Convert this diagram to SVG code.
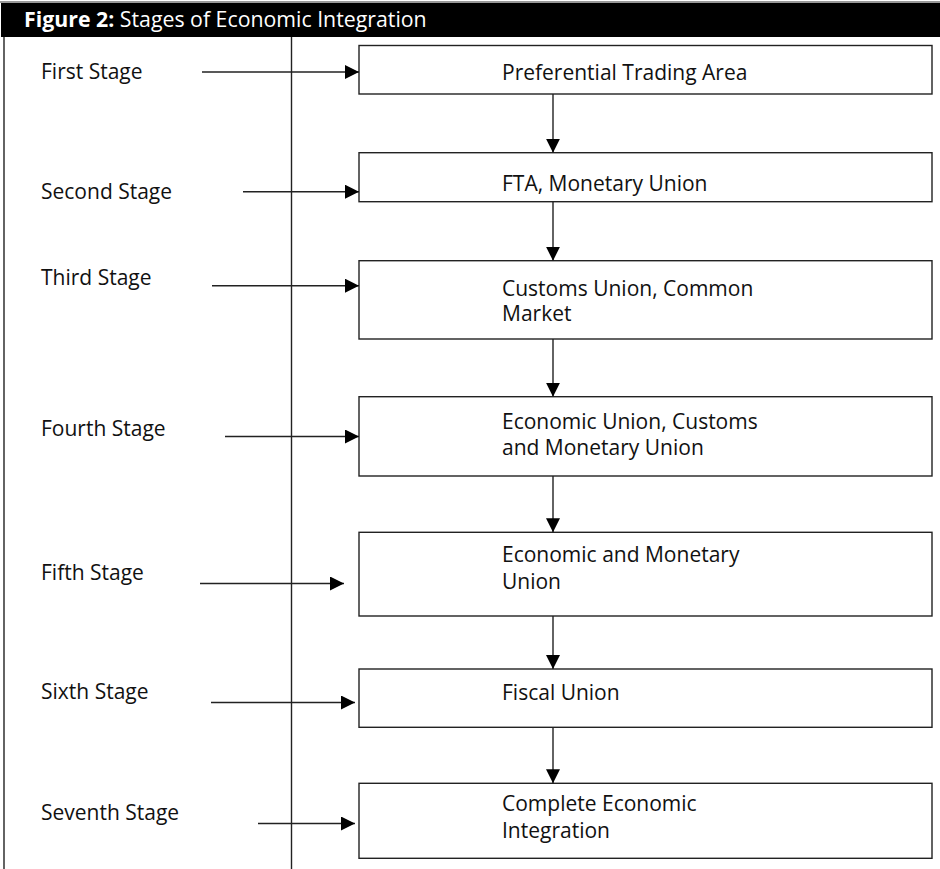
<svg xmlns="http://www.w3.org/2000/svg" width="940" height="869" viewBox="0 0 940 869">
<defs>
<style>
text{font-family:"Open Sans","Noto Sans","Liberation Sans",sans-serif;font-size:21px;fill:#111}
.hdr{fill:#fff;font-size:21.3px}
.b{font-weight:bold}
.box{fill:#fff;stroke:#222;stroke-width:1.4}
.ln{stroke:#222;stroke-width:1.4;fill:none}
.con{stroke:#222;stroke-width:1.4;fill:none;marker-end:url(#ah)}
</style>
<marker id="ah" viewBox="0 0 10 10" refX="10" refY="5" markerUnits="userSpaceOnUse" markerWidth="14" markerHeight="14" orient="auto">
<path d="M0,0 L10,5 L0,10 Z" fill="#000"/>
</marker>
</defs>
<rect x="0" y="0" width="940" height="869" fill="#fff"/>
<g id="header">
<rect x="0" y="1" width="940" height="2" fill="#999"/>
<rect x="1" y="3" width="939" height="34" fill="#000"/>
<text x="24" y="27" class="hdr"><tspan class="b">Figure 2:</tspan> Stages of Economic Integration</text>
</g>
<g id="frame">
<line class="ln" x1="4" y1="37" x2="4" y2="869"/>
<line class="ln" x1="291.5" y1="37" x2="291.5" y2="869"/>
</g>
<g id="labels">
<text x="41" y="79">First Stage</text>
<text x="41" y="199">Second Stage</text>
<text x="41" y="285">Third Stage</text>
<text x="41" y="436">Fourth Stage</text>
<text x="41" y="580">Fifth Stage</text>
<text x="41" y="699">Sixth Stage</text>
<text x="41" y="820">Seventh Stage</text>
</g>
<g id="node1"><rect class="box" x="359" y="45.5" width="573" height="48.5"/><text x="502" y="80">Preferential Trading Area</text></g>
<g id="node2"><rect class="box" x="359" y="152.7" width="573" height="49"/><text x="502" y="190.5">FTA, Monetary Union</text></g>
<g id="node3"><rect class="box" x="359" y="260.7" width="573" height="78.3"/><text x="502" y="295.5">Customs Union, Common</text><text x="502" y="321">Market</text></g>
<g id="node4"><rect class="box" x="359" y="396.7" width="573" height="79.3"/><text x="502" y="428.5">Economic Union, Customs</text><text x="502" y="455">and Monetary Union</text></g>
<g id="node5"><rect class="box" x="359" y="532.3" width="573" height="83.7"/><text x="502" y="561.5">Economic and Monetary</text><text x="502" y="589">Union</text></g>
<g id="node6"><rect class="box" x="359" y="669" width="573" height="58.3"/><text x="502" y="699.5">Fiscal Union</text></g>
<g id="node7"><rect class="box" x="359" y="783.3" width="573" height="75"/><text x="502" y="810.5">Complete Economic</text><text x="502" y="837.5">Integration</text></g>
<g id="connectors">
<line class="con" x1="202" y1="72" x2="359" y2="72"/>
<line class="con" x1="243" y1="191.7" x2="359" y2="191.7"/>
<line class="con" x1="212" y1="285.7" x2="359" y2="285.7"/>
<line class="con" x1="225" y1="436.5" x2="359" y2="436.5"/>
<line class="con" x1="200" y1="583.5" x2="344" y2="583.5"/>
<line class="con" x1="211" y1="702.5" x2="355" y2="702.5"/>
<line class="con" x1="258" y1="823.5" x2="355" y2="823.5"/>
<line class="con" x1="553" y1="94" x2="553" y2="152.7"/>
<line class="con" x1="553" y1="201.7" x2="553" y2="260.7"/>
<line class="con" x1="553" y1="339" x2="553" y2="396.7"/>
<line class="con" x1="553" y1="476" x2="553" y2="532.3"/>
<line class="con" x1="553" y1="616" x2="553" y2="669"/>
<line class="con" x1="553" y1="727.3" x2="553" y2="783.3"/>
</g>
</svg>
